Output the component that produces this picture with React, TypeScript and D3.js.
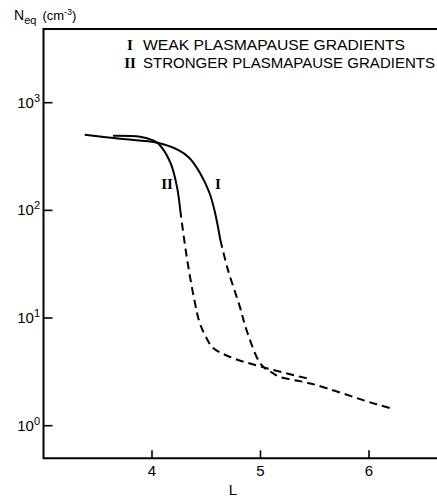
import React from 'react';
import * as d3 from 'd3';

// Curve I: weak plasmapause gradients
const curveI_L = [3.38, 3.71, 4.05, 4.24, 4.34, 4.44, 4.53, 4.58, 4.63, 4.7, 4.81, 4.87, 4.99, 5.06, 5.11, 5.17, 5.48, 6.0, 6.22];
const curveI_N = [505, 462, 425, 365, 310, 225, 145, 96, 53, 28, 12.7, 7.8, 3.9, 3.3, 3.1, 2.86, 2.44, 1.66, 1.43];
const curveI_solidEnd = 4.63;

// Curve II: stronger plasmapause gradients
const curveII_L = [3.64, 3.89, 4.01, 4.06, 4.17, 4.23, 4.26, 4.32, 4.39, 4.44, 4.51, 4.56, 4.72, 5.02, 5.45];
const curveII_N = [493, 483, 447, 416, 277, 166, 101, 37, 14.8, 9.0, 6.3, 5.3, 4.35, 3.5, 2.72];
const curveII_solidEnd = 4.26;

const xTicks = [4, 5, 6];
const yTicks = [1, 10, 100, 1000];
const yTickExp = ['0', '1', '2', '3'];
const legendNumerals = ['I', 'II'];
const legendTexts = ['WEAK PLASMAPAUSE GRADIENTS', 'STRONGER PLASMAPAUSE GRADIENTS'];

const W = 437;
const H = 499;
const sans = "'Liberation Sans', Arial, sans-serif";
const serif = "'Liberation Serif', 'Times New Roman', serif";

export default function App() {
  const x = d3.scaleLinear().domain([3, 6]).range([43.5, 369]);
  const y = d3.scaleLog().domain([1, 1000]).range([425.7, 102.7]);
  const left = x(3);
  const bottom = 458.3;
  const top = 29;
  const right = W;

  const line = d3
    .line<[number, number]>()
    .x((d) => x(d[0]))
    .y((d) => y(d[1]))
    .curve(d3.curveCatmullRom.alpha(0.5));

  const split = (Ls: number[], Ns: number[], s: number) => {
    const pts: [number, number][] = Ls.map((l, i) => [l, Ns[i]]);
    return {
      solid: pts.filter((p) => p[0] <= s),
      dashed: pts.filter((p) => p[0] >= s),
    };
  };
  const c1 = split(curveI_L, curveI_N, curveI_solidEnd);
  const c2 = split(curveII_L, curveII_N, curveII_solidEnd);

  return (
    <svg
      width={W}
      height={H}
      style={{ position: 'absolute', left: 0, top: 0, background: '#fff' }}
    >
      {/* frame */}
      <path
        d={`M${right},${top}H${left}V${bottom}H${right}`}
        fill="none"
        stroke="#000"
        strokeWidth={2}
      />
      {/* y ticks */}
      {yTicks.map((t, i) => (
        <g key={t}>
          <line x1={left} x2={left + 9} y1={y(t)} y2={y(t)} stroke="#000" strokeWidth={1.6} />
          <text x={40} y={y(t) + 5} textAnchor="end" fontFamily={sans} fontSize={15}>
            10
            <tspan fontSize={11} dy={-6}>
              {yTickExp[i]}
            </tspan>
          </text>
        </g>
      ))}
      {/* x ticks */}
      {xTicks.map((t) => (
        <g key={t}>
          <line x1={x(t)} x2={x(t)} y1={bottom} y2={bottom - 8} stroke="#000" strokeWidth={1.6} />
          <text x={x(t)} y={bottom + 18} textAnchor="middle" fontFamily={sans} fontSize={15}>
            {t}
          </text>
        </g>
      ))}
      <text x={233} y={495} textAnchor="middle" fontFamily={sans} fontSize={15}>
        L
      </text>
      {/* y axis title */}
      <text x={14} y={20} fontFamily={sans} fontSize={14}>
        N
        <tspan fontSize={11} dy={4}>
          eq
        </tspan>
        <tspan fontSize={13} dy={-4} dx={6}>
          (cm
        </tspan>
        <tspan fontSize={9} dy={-5}>
          -3
        </tspan>
        <tspan fontSize={13} dy={5}>
          )
        </tspan>
      </text>
      {/* legend */}
      {legendTexts.map((t, i) => (
        <g key={t}>
          <text
            x={130}
            y={50 + i * 18}
            textAnchor="middle"
            fontFamily={serif}
            fontWeight="bold"
            fontSize={15}
          >
            {legendNumerals[i]}
          </text>
          <text
            x={143}
            y={50 + i * 18}
            fontFamily={sans}
            fontSize={15}
            textLength={i === 0 ? 262 : 292}
            lengthAdjust="spacingAndGlyphs"
          >
            {t}
          </text>
        </g>
      ))}
      {/* curves */}
      {[c1, c2].map((c, i) => (
        <g key={i} fill="none" stroke="#000" strokeWidth={2}>
          <path d={line(c.solid) || ''} />
          <path d={line(c.dashed) || ''} strokeDasharray="8,5" />
        </g>
      ))}
      {/* curve labels */}
      <text x={167} y={189} textAnchor="middle" fontFamily={serif} fontWeight="bold" fontSize={15}>
        {legendNumerals[1]}
      </text>
      <text x={218} y={189} textAnchor="middle" fontFamily={serif} fontWeight="bold" fontSize={15}>
        {legendNumerals[0]}
      </text>
    </svg>
  );
}
